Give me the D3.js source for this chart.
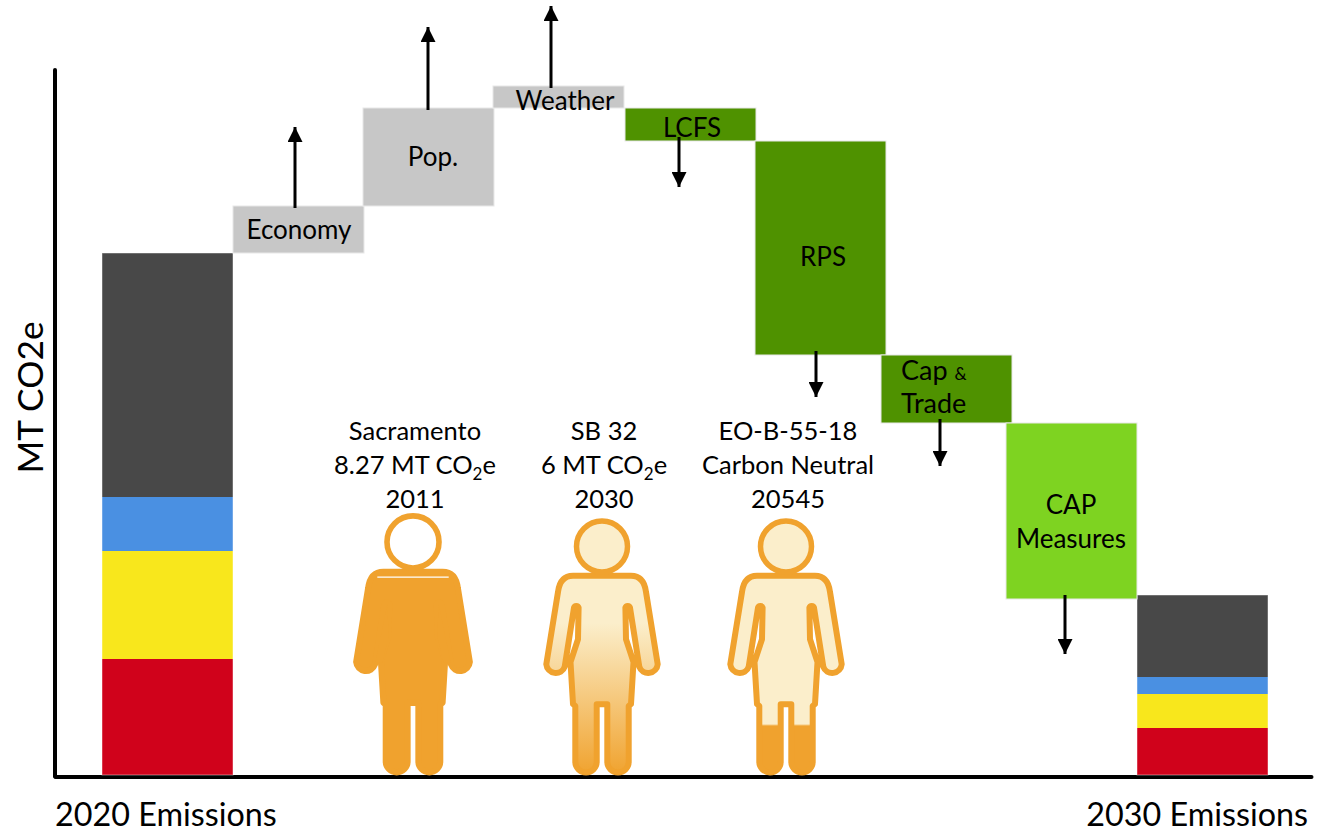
<!DOCTYPE html>
<html>
<head>
<meta charset="utf-8">
<script src="https://cdn.jsdelivr.net/npm/d3@7"></script>
<style>
  html, body { margin: 0; padding: 0; background: #fff; }
  text { font-family: Lato, "Open Sans", sans-serif; fill: #000; }
</style>
</head>
<body>
<div id="chartDiv"></div>
<script>
// values, no ticks on the original so units are arbitrary
var stackNames = ['Red', 'Yellow', 'Blue', 'Dark'];
var stack2020 = [116, 108, 54, 244];
var stack2030 = [47, 34, 17, 82];
var stepNames = ['Economy', 'Pop.', 'Weather', 'LCFS', 'RPS', 'Cap & Trade', 'CAP Measures'];
var stepStart = [522, 569, 667, 667, 634, 420, 352];
var stepEnd = [569, 667, 689, 634, 420, 352, 176];
var arrowTip = [648, 748, 769, 588, 378, 309, 121];
var peopleLabels = ['Sacramento', 'SB 32', 'EO-B-55-18'];
var peopleAmounts = ['8.27 MT CO', '6 MT CO', 'Carbon Neutral'];
var peopleYears = ['2011', '2030', '20545'];
var startLabel = '2020 Emissions';
var endLabel = '2030 Emissions';
var yTitle = 'MT CO2e';

var width = 1329;
var height = 832;
var orange = '#f0a22e';
var cream = '#fbeecb';

var svg = d3.select('#chartDiv').append('svg')
  .attr('width', width).attr('height', height)
  .style('display', 'block');

var defs = svg.append('defs');

var y = d3.scaleLinear().domain([0, 705]).range([775, 70]);

// columns are not evenly spaced in the original, they overlap a little
var columns = [startLabel].concat(stepNames).concat([endLabel]);
var x = d3.scaleOrdinal().domain(columns)
  .range([102, 233, 363, 493, 625, 755, 881, 1006, 1137]);
var barWidth = 131;

var stackColor = d3.scaleOrdinal().domain(stackNames)
  .range(['#d0021b', '#f8e71c', '#4a90e2', '#484848']);
var stepColor = d3.scaleOrdinal().domain(stepNames)
  .range(['#c7c7c7', '#c7c7c7', '#c7c7c7', '#4f9200', '#4f9200', '#4f9200', '#7ed321']);

// axes, no ticks
var xLine = d3.scaleLinear().domain([0, 1]).range([55, 1311]);
svg.append('g').attr('transform', 'translate(0,776.5)')
  .call(d3.axisBottom(xLine).tickValues([]).tickSizeOuter(0))
  .select('.domain').attr('stroke', '#000').attr('stroke-width', 4).attr('stroke-linecap', 'round');
svg.append('g').attr('transform', 'translate(55,0)')
  .call(d3.axisLeft(y).tickValues([]).tickSizeOuter(0))
  .select('.domain').attr('stroke', '#000').attr('stroke-width', 4).attr('stroke-linecap', 'round')
  .attr('d', 'M0,' + y(705) + 'V776.5');

// stacked end columns
function drawStack(name, values) {
  var rows = [{}];
  stackNames.forEach(function(s, i) { rows[0][s] = values[i]; });
  var series = d3.stack().keys(stackNames)(rows);
  var g = svg.append('g');
  g.selectAll('rect')
    .data(series)
    .enter().append('rect')
    .attr('x', x(name))
    .attr('width', barWidth)
    .attr('y', function(d) { return y(d[0][1]); })
    .attr('height', function(d) { return y(d[0][0]) - y(d[0][1]); })
    .attr('fill', function(d) { return stackColor(d.key); });
  // thin pale edge round the whole column
  g.append('rect')
    .attr('x', x(name))
    .attr('width', barWidth)
    .attr('y', y(d3.sum(values)))
    .attr('height', y(0) - y(d3.sum(values)))
    .attr('fill', 'none')
    .attr('stroke', '#fff')
    .attr('stroke-opacity', 0.45)
    .attr('stroke-width', 1);
}
drawStack(startLabel, stack2020);
drawStack(endLabel, stack2030);

defs.append('marker')
  .attr('id', 'head')
  .attr('markerUnits', 'userSpaceOnUse')
  .attr('viewBox', '0 0 15 15')
  .attr('markerWidth', 15).attr('markerHeight', 15)
  .attr('refX', 15).attr('refY', 7.5)
  .attr('orient', 'auto')
  .append('path').attr('d', 'M0,0L15,7.5L0,15Z').attr('fill', '#000');

var arrowX = [295, 428, 551, 679, 816, 940, 1065];

// waterfall steps
var steps = stepNames.map(function(n, i) {
  return { name: n, start: stepStart[i], end: stepEnd[i], tip: arrowTip[i], ax: arrowX[i] };
});

svg.append('g').selectAll('rect')
  .data(steps)
  .enter().append('rect')
  .attr('x', function(d) { return x(d.name); })
  .attr('width', barWidth)
  .attr('y', function(d) { return y(Math.max(d.start, d.end)); })
  .attr('height', function(d) { return Math.abs(y(d.start) - y(d.end)); })
  .attr('fill', function(d) { return stepColor(d.name); })
  .attr('stroke', '#e8e8e8')
  .attr('stroke-width', 1);

svg.append('g').selectAll('line')
  .data(steps)
  .enter().append('line')
  .attr('x1', function(d) { return d.ax; })
  .attr('x2', function(d) { return d.ax; })
  .attr('y1', function(d) { return y(d.end) + (d.tip > d.end ? 2 : -4); })
  .attr('y2', function(d) { return y(d.tip); })
  .attr('stroke', '#000')
  .attr('stroke-width', 3)
  .attr('marker-end', 'url(#head)');

// bar labels
var stepLabels = [
  { t: 'Economy', x: 299, y: 239 },
  { t: 'Pop.', x: 433, y: 166 },
  { t: 'Weather', x: 565, y: 110 },
  { t: 'LCFS', x: 692, y: 137 },
  { t: 'RPS', x: 823, y: 266 },
  { t: 'CAP', x: 1071, y: 514 },
  { t: 'Measures', x: 1071, y: 548 }
];
svg.append('g').selectAll('text')
  .data(stepLabels)
  .enter().append('text')
  .attr('x', function(d) { return d.x; })
  .attr('y', function(d) { return d.y; })
  .attr('text-anchor', 'middle')
  .style('font-size', '26px')
  .text(function(d) { return d.t; });

var capText = svg.append('text').attr('x', 901).attr('y', 380).style('font-size', '27px');
capText.append('tspan').text('Cap ');
capText.append('tspan').style('font-size', '17px').text('&');
svg.append('text').attr('x', 901).attr('y', 413).style('font-size', '27px').text('Trade');

// people
var peopleX = [413, 602, 786];
var peopleScale = [1.02, 1, 1];
var bodyPath = 'M0,-199.3H29Q42,-199.3 44,-183L55.7,-110.7A9.5,9.5 0 0 1 37.3,-108.3L28,-167.3A2.4,2.4 0 0 0 23.4,-167.3' +
  'L24,-135.7L31.5,-113L29,-71L26.7,-69V-13.3A10.7,10.7 0 0 1 5.3,-13.3V-70.7H-5.3V-13.3A10.7,10.7 0 0 1 -26.7,-13.3' +
  'V-69L-29,-71L-31.5,-113L-24,-135.7L-23.4,-167.3A2.4,2.4 0 0 0 -28,-167.3L-37.3,-108.3A9.5,9.5 0 0 1 -55.7,-110.7' +
  'L-44,-183Q-42,-199.3 -29,-199.3Z';
// closes the gap between arm and body on the solid figure
var gapPatch = 'M25,-168L37,-110L30,-110L24,-135Z M-25,-168L-37,-110L-30,-110L-24,-135Z';

function addFill(id, stops) {
  var g = defs.append('linearGradient').attr('id', id)
    .attr('gradientUnits', 'userSpaceOnUse')
    .attr('x1', 0).attr('x2', 0).attr('y1', -200).attr('y2', 0);
  g.selectAll('stop').data(stops).enter().append('stop')
    .attr('offset', function(d) { return d[0]; })
    .attr('stop-color', function(d) { return d[1]; });
}
addFill('fill0', [[0, orange], [1, orange]]);
addFill('fill1', [[0, cream], [0.24, cream], [1, orange]]);
addFill('fill2', [[0, cream], [0.745, cream], [0.755, orange], [1, orange]]);

var person = svg.append('g').selectAll('g')
  .data(peopleLabels)
  .enter().append('g')
  .attr('transform', function(d, i) {
    return 'translate(' + peopleX[i] + ',775) scale(' + peopleScale[i] + ')';
  });

person.append('path')
  .attr('d', bodyPath)
  .attr('fill', function(d, i) { return 'url(#fill' + i + ')'; })
  .attr('stroke', orange)
  .attr('stroke-width', 6)
  .attr('stroke-linejoin', 'round');

person.append('circle')
  .attr('cx', 0)
  .attr('cy', -228.5)
  .attr('r', 25.5)
  .attr('fill', function(d, i) { return i === 0 ? '#fff' : cream; })
  .attr('stroke', orange)
  .attr('stroke-width', 5.5);

var solid = person.filter(function(d, i) { return i === 0; });
solid.append('path').attr('d', gapPatch).attr('fill', orange);
solid.append('line')
  .attr('x1', -35).attr('x2', 35)
  .attr('y1', -194).attr('y2', -194)
  .attr('stroke', '#fff')
  .attr('stroke-width', 1.2);

// text over each person
var labelX = [415, 604, 788];
var peopleText = svg.append('g').selectAll('g')
  .data(peopleLabels)
  .enter().append('g')
  .attr('text-anchor', 'middle')
  .attr('transform', function(d, i) { return 'translate(' + labelX[i] + ',0)'; })
  .style('font-size', '25.5px');

peopleText.append('text').attr('y', 440).text(function(d) { return d; });
var amount = peopleText.append('text').attr('y', 474);
amount.append('tspan').text(function(d, i) { return peopleAmounts[i]; });
amount.filter(function(d, i) { return i < 2; }).append('tspan')
  .attr('dy', 6).style('font-size', '17px').text('2');
amount.filter(function(d, i) { return i < 2; }).append('tspan')
  .attr('dy', -6).text('e');
peopleText.append('text').attr('y', 508).text(function(d, i) { return peopleYears[i]; });

// axis text
svg.append('text').attr('x', 55).attr('y', 826).style('font-size', '32.3px').text(startLabel);
svg.append('text').attr('x', 1308).attr('y', 826).attr('text-anchor', 'end').style('font-size', '32.3px').text(endLabel);
svg.append('text')
  .attr('transform', 'translate(43,397.5) rotate(-90)')
  .attr('text-anchor', 'middle')
  .style('font-size', '35.3px')
  .text(yTitle);
</script>
</body>
</html>
